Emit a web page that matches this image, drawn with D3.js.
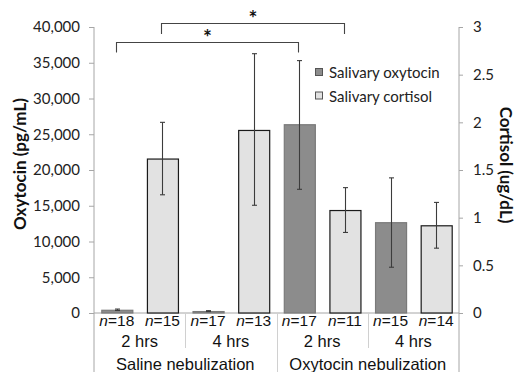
<!DOCTYPE html>
<html><head><meta charset="utf-8">
<script src="https://cdn.jsdelivr.net/npm/d3@7"></script>
<style>body{margin:0;background:#fff}svg{display:block}</style>
</head><body>
<svg id="c" width="519" height="372"></svg>
<script>
// ---- data ----
const groups = ["Saline nebulization", "Oxytocin nebulization"];
const times = ["2 hrs", "4 hrs"];
const series = ["Salivary oxytocin", "Salivary cortisol"];
const nCounts = [18, 15, 17, 13, 17, 11, 15, 14]; // order: group, time, series
const oxytocin = [450, 270, 26400, 12700];          // pg/mL, per group x time
const oxytocinLow = [350, 200, 17300, 6400];
const oxytocinHigh = [550, 330, 35300, 18900];
const cortisol = [1.62, 1.92, 1.08, 0.92];           // ug/dL
const cortisolLow = [1.24, 1.13, 0.845, 0.68];
const cortisolHigh = [2.0, 2.72, 1.315, 1.16];
const oxyTicks = [0, 5000, 10000, 15000, 20000, 25000, 30000, 35000, 40000];
const cortTicks = [0, 0.5, 1, 1.5, 2, 2.5, 3];
const brackets = [[0, 4], [1, 5]]; // category index pairs (significance)

// ---- build rows ----
const rows = [];
groups.forEach((g, gi) => times.forEach((t, ti) => series.forEach((s, si) => {
  const k = gi * 2 + ti;
  const idx = rows.length;
  rows.push({
    key: idx, group: g, time: t, series: s, n: nCounts[idx],
    v: si === 0 ? oxytocin[k] : cortisol[k],
    lo: si === 0 ? oxytocinLow[k] : cortisolLow[k],
    hi: si === 0 ? oxytocinHigh[k] : cortisolHigh[k]
  });
})));

const svg = d3.select("#c");
const L = 94, R = 459, T = 27, B = 313;
const calib = "Lato, 'Open Sans', sans-serif";
const arial = "'Liberation Sans', Arial, sans-serif";
const axisCol = "#a6a6a6";

const x = d3.scaleBand().domain(rows.map(d => d.key)).range([L, R])
  .paddingInner(0.32).paddingOuter(0.16);
const yL = d3.scaleLinear().domain([0, 40000]).range([B, T]);
const yR = d3.scaleLinear().domain([0, 3]).range([B, T]);

// axes
const axL = svg.append("g").attr("transform", `translate(${L},0)`)
  .call(d3.axisLeft(yL).tickValues(oxyTicks).tickFormat(d3.format(",")).tickSize(5).tickPadding(9));
const axR = svg.append("g").attr("transform", `translate(${R},0)`)
  .call(d3.axisRight(yR).tickValues(cortTicks).tickFormat(d => String(d)).tickSize(4).tickPadding(10));
[axL, axR].forEach(a => {
  a.select(".domain").remove();
  a.selectAll("line").attr("stroke", axisCol);
  a.selectAll("text").attr("font-family", calib).attr("font-size", 15).attr("fill", "#222");
});
// vertical axis lines (extend through category area)
[L, R].forEach(px => svg.append("line").attr("x1", px).attr("x2", px).attr("y1", T).attr("y2", 372)
  .attr("stroke", axisCol));
// baseline
svg.append("line").attr("x1", L).attr("x2", R).attr("y1", B).attr("y2", B).attr("stroke", axisCol);

// category separators
const step = x.step();
[2, 6].forEach(i => {
  const px = Math.round(L + step * i) + 0.5;
  svg.append("line").attr("x1", px).attr("x2", px).attr("y1", B).attr("y2", 348).attr("stroke", "#d0d0d0");
});
{
  const px = Math.round(L + step * 4) + 0.5;
  svg.append("line").attr("x1", px).attr("x2", px).attr("y1", B).attr("y2", 372).attr("stroke", "#d0d0d0");
}

const yOf = d => d.series === series[0] ? yL : yR;

// bars
svg.append("g").selectAll("rect").data(rows).join("rect")
  .attr("x", d => x(d.key) + 0.5)
  .attr("y", d => yOf(d)(d.v) + 0.5)
  .attr("width", x.bandwidth())
  .attr("height", d => B - yOf(d)(d.v) - 0.5)
  .attr("fill", d => d.series === series[0] ? "#8c8c8c" : "#e2e2e2")
  .attr("stroke", d => d.series === series[0] ? "#7a7a7a" : "#1a1a1a")
  .attr("stroke-width", 1.2);

// error bars
const eb = svg.append("g").attr("stroke", "#3c3c3c").attr("stroke-width", 1.1);
rows.forEach(d => {
  const cx = Math.round(x(d.key) + x.bandwidth() / 2) + 0.5, s = yOf(d);
  eb.append("line").attr("x1", cx).attr("x2", cx).attr("y1", s(d.lo)).attr("y2", s(d.hi));
  [d.lo, d.hi].forEach(v => eb.append("line").attr("x1", cx - 2.5).attr("x2", cx + 2.5)
    .attr("y1", s(v)).attr("y2", s(v)));
});

// category labels
const cx = i => x(i) + x.bandwidth() / 2;
rows.forEach((d, i) => {
  const t = svg.append("text").attr("x", cx(i)).attr("y", 326).attr("text-anchor", "middle")
    .attr("font-family", arial).attr("font-size", 15.5).attr("fill", "#111");
  t.append("tspan").attr("font-style", "italic").text("n");
  t.append("tspan").text("=" + d.n);
});
groups.forEach((g, gi) => {
  times.forEach((t, ti) => {
    const k = gi * 4 + ti * 2;
    svg.append("text").attr("x", (cx(k) + cx(k + 1)) / 2).attr("y", 347).attr("text-anchor", "middle")
      .attr("font-family", arial).attr("font-size", 16.5).attr("fill", "#111").text(t);
  });
  svg.append("text").attr("x", L + step * (gi * 4 + 2)).attr("y", 370).attr("text-anchor", "middle")
    .attr("font-family", arial).attr("font-size", 16.5).attr("fill", "#111").text(g);
});

// axis titles
svg.append("text").attr("transform", "translate(26,164) rotate(-90)").attr("text-anchor", "middle")
  .attr("font-family", calib).attr("font-weight", "bold").attr("font-size", 17).attr("fill", "#111")
  .text("Oxytocin (pg/mL)");
svg.append("text").attr("transform", "translate(500,165) rotate(90)").attr("text-anchor", "middle")
  .attr("font-family", calib).attr("font-weight", "bold").attr("font-size", 17).attr("fill", "#111")
  .text("Cortisol (ug/dL)");

// significance brackets
const bg = svg.append("g").attr("fill", "none").attr("stroke", "#444").attr("stroke-width", 1.1);
const levels = [{top: 42.5, leg: 52.5, star: 45}, {top: 23.5, leg: 34, star: 26}];
brackets.forEach(([a, b], i) => {
  const lv = levels[i];
  const x1 = Math.round(cx(a)) - 0.5, x2 = Math.round(cx(b)) - 0.5;
  bg.append("path").attr("d", `M${x1},${lv.leg}V${lv.top}H${x2}V${lv.leg}`);
  svg.append("text").attr("x", (x1 + x2) / 2).attr("y", lv.star).attr("text-anchor", "middle")
    .attr("font-family", calib).attr("font-weight", "bold").attr("font-size", 21).attr("fill", "#111").text("*");
});

// legend
const lg = svg.append("g").attr("transform", "translate(315,68)");
series.forEach((s, i) => {
  const gy = i * 23.5;
  lg.append("rect").attr("x", 0.5).attr("y", gy + 0.5).attr("width", 7).attr("height", 7)
    .attr("fill", i === 0 ? "#8c8c8c" : "#e2e2e2").attr("stroke", "#555");
  lg.append("text").attr("x", 14).attr("y", gy + 10).attr("font-family", calib).attr("font-size", 15)
    .attr("fill", "#222").text(s);
});
</script>
</body></html>
